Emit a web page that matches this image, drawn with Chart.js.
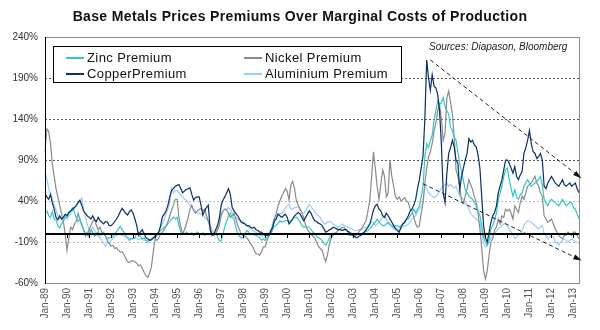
<!DOCTYPE html>
<html>
<head>
<meta charset="utf-8">
<script src="https://cdn.jsdelivr.net/npm/chart.js@4.4.1/dist/chart.umd.min.js"></script>
<style>
body{margin:0;background:#fff;font-family:"Liberation Sans",Arial,sans-serif}
#caixa{position:relative;width:600px;height:330px}
#titulo{position:absolute;left:0;top:8px;width:600px;text-align:center;font-weight:bold;font-size:14px;color:#111;letter-spacing:0.35px}
#legenda{position:absolute;left:53px;top:46px;width:347px;height:35px;border:1px solid #000;background:#fff}
.item{position:absolute;font-size:13px;color:#111;line-height:15px;letter-spacing:0.4px}
.item i{position:absolute;left:-21px;top:7px;width:18px;height:2px}
#fonte{position:absolute;left:429px;top:41px;font-size:10px;font-style:italic;color:#222}
</style>
</head>
<body>
<div id="caixa">
  <canvas id="grafico" width="600" height="330"></canvas>
  <div id="titulo">Base Metals Prices Premiums Over Marginal Costs of Production</div>
  <div id="legenda"></div>
  <div id="fonte">Sources: Diapason, Bloomberg</div>
</div>
<script>
// rotulos mensais jan-89 ate abr-13
const anos = ['89','90','91','92','93','94','95','96','97','98','99','00','01','02','03','04','05','06','07','08','09','10','11','12','13']
const meses = ['Jan','Feb','Mar','Apr','May','Jun','Jul','Aug','Sep','Oct','Nov','Dec']
const mesesUltimoAno = 4
const rotulos = []
for (const a of anos) {
    const n = a === '13' ? mesesUltimoAno : 12
    for (let m = 0; m < n; m++) rotulos.push(meses[m] + '-' + a)
}

// valores (%), um ano por linha
const zinco = [
 25,28,22,20,27,18,17,10,7,12,15,20,
 20,25,28,32,26,20,15,18,12,5,-3,2,
 -3,5,2,-3,0,3,-2,0,2,-3,-5,-5,
 -5,-3,0,3,6,9,5,2,-3,-5,-8,-6,
 -6,-5,0,2,-3,-6,-5,-8,-10,-7,-8,-5,
 -5,-2,2,4,6,8,9,12,15,18,20,18,
 20,10,2,0,-1,2,0,-1,1,-2,0,2,
 0,-1,1,-2,0,-1,1,0,-1,0,-3,-9,
 -9,0,9,15,22,25,20,18,8,0,-3,-5,
 -5,0,4,2,-1,0,-1,-2,-3,-5,-8,-6,
 -8,-5,0,2,5,9,10,13,16,14,15,16,
 16,15,16,18,20,20,18,14,10,8,9,8,
 8,5,2,0,-3,-5,-6,-8,-12,-14,-10,-5,
 0,0,1,0,0,-1,0,-1,0,0,-2,-2,
 -2,-3,-1,0,0,1,2,3,4,6,9,12,
 14,18,15,12,10,10,12,14,12,10,8,10,
 10,8,10,12,15,18,18,22,25,30,25,30,
 34,45,58,94,110,105,114,120,138,150,162,158,
 160,166,155,150,146,130,126,118,114,100,86,75,
 65,54,50,46,44,42,38,34,28,22,10,-5,
 -10,-14,-8,6,10,18,25,42,50,58,70,78,
 80,66,55,46,54,45,42,48,50,58,62,66,
 62,58,60,62,64,66,70,60,42,38,34,40,
 42,40,38,36,34,38,42,38,34,36,38,38,
 32,30,24,18
]
const cobre = [
 50,45,42,48,38,30,20,17,22,18,20,24,
 22,26,28,30,32,34,38,41,35,28,25,22,
 20,18,22,17,15,20,16,14,12,15,14,10,
 10,12,15,18,22,27,31,28,25,23,27,29,
 25,18,10,-2,2,5,0,-5,-6,-8,-7,-5,
 -3,0,2,10,21,24,28,35,45,53,55,58,
 59,60,55,50,52,54,55,56,48,41,44,45,
 45,35,23,28,32,35,5,-2,0,5,10,19,
 35,41,45,50,55,48,32,28,25,22,18,14,
 13,12,10,10,8,7,8,5,4,2,2,0,
 -2,-1,-2,3,8,16,18,24,22,20,22,24,
 20,12,15,18,22,24,26,24,20,16,20,24,
 28,25,20,16,15,13,12,10,6,2,3,5,
 6,8,7,6,5,5,4,5,5,3,2,0,
 -2,-4,-5,-3,-2,0,2,5,8,12,20,29,
 34,36,30,28,22,20,25,22,18,14,10,6,
 4,2,8,12,14,18,22,28,30,35,42,55,
 66,80,95,140,212,190,175,194,180,178,170,150,
 110,50,38,74,98,105,114,106,90,86,54,70,
 80,90,98,116,112,114,108,106,96,80,45,10,
 -5,-10,2,14,22,26,34,50,58,66,78,90,
 90,86,80,74,82,70,66,72,76,98,105,114,
 126,110,100,98,92,94,98,90,58,55,62,66,
 70,66,62,60,58,62,66,60,58,60,62,58,
 60,62,55,50
]
const niquel = [
 100,128,125,110,85,70,55,45,35,25,15,0,
 -20,-5,8,5,12,15,25,18,10,5,0,-2,
 5,10,15,18,10,5,8,2,0,-3,-8,-12,
 -15,-14,-18,-17,-20,-22,-22,-25,-30,-34,-35,-33,
 -33,-34,-36,-39,-38,-42,-47,-51,-53,-48,-40,-22,
 -6,-8,-5,0,2,5,10,15,22,29,35,42,
 42,20,8,0,5,12,20,30,35,28,25,28,
 30,31,28,30,22,15,8,0,-2,0,5,10,
 22,28,30,29,25,20,22,25,18,10,5,-1,
 -2,-3,-5,-8,-12,-15,-20,-24,-25,-26,-22,-16,
 -16,-8,-2,0,5,17,25,34,40,46,50,55,
 52,41,60,64,55,40,35,30,25,20,10,5,
 2,0,-3,-5,-10,-15,-18,-20,-28,-34,-25,-12,
 -5,-2,0,2,5,6,8,8,5,2,0,-2,
 -2,-3,0,2,5,8,12,16,28,41,70,100,
 80,58,42,60,78,70,45,50,90,70,58,45,
 42,45,40,42,44,40,38,30,28,20,12,8,
 10,25,38,62,80,94,100,110,125,135,150,158,
 140,114,122,166,174,160,146,118,78,70,58,40,
 38,46,55,66,60,54,45,38,25,6,-18,-45,
 -55,-45,-26,-10,-6,5,8,18,12,22,20,30,
 28,30,25,18,34,30,26,38,46,42,50,58,
 60,62,66,70,62,58,50,46,22,18,14,16,
 18,12,6,2,-2,-4,-6,-2,-2,2,0,-2,
 2,2,-2,-6
]
const aluminio = [
 75,68,55,48,42,35,29,22,18,20,17,22,
 18,22,25,28,30,35,40,38,44,30,20,12,
 5,2,8,4,0,-3,-5,-8,-12,-15,-10,-12,
 -8,-6,-4,-2,0,0,-2,-3,-3,-5,-5,-6,
 -6,-5,-6,-7,-6,-7,-8,-8,-9,-8,-6,-5,
 -2,0,3,9,12,18,25,30,40,55,50,53,
 53,50,48,45,42,41,38,35,32,30,28,25,
 25,24,23,20,18,16,10,5,0,0,5,12,
 25,28,30,30,32,30,25,22,20,18,16,15,
 16,12,10,8,6,4,3,2,0,-2,-2,-3,
 -2,-2,0,5,12,20,22,24,25,24,28,32,
 34,36,30,30,32,32,33,30,26,25,28,32,
 36,33,30,27,24,22,20,16,12,12,14,15,
 14,12,10,9,8,10,12,10,9,8,7,6,
 5,4,4,5,5,6,7,8,10,12,15,14,
 10,12,14,16,20,22,18,12,10,8,6,6,
 6,5,6,8,10,10,12,14,18,20,22,26,
 30,34,38,58,55,50,48,46,44,46,48,52,
 55,58,60,62,58,60,58,56,58,52,46,44,
 42,38,35,30,25,22,20,18,16,14,2,-12,
 -16,-14,-8,-6,-2,0,4,6,8,10,12,12,
 10,6,2,0,-6,-4,-2,0,4,10,14,16,
 15,14,12,10,8,6,8,10,0,-2,-6,-4,
 -2,-4,-10,-12,-14,-10,-8,-6,-8,-10,-8,-6,
 -8,-10,-10,-12
]

// setas de tendencia tracejadas [rotulo, valor]
const tendenciaAlta = [['Jul-06', 212], ['Apr-13', 70]]
const tendenciaBaixa = [['Mar-06', 61], ['Apr-13', -31]]

const grade = [190, 140, 90, 40, -10]
const gradeClara = [40, -10]

const series = [
    {nome: 'Zinc Premium', dados: zinco, cor: '#33c6c6', ordem: 1, col: 0, lin: 0},
    {nome: 'Nickel Premium', dados: niquel, cor: '#8a8a8a', ordem: 2, col: 1, lin: 0},
    {nome: 'CopperPremium', dados: cobre, cor: '#0b2e66', ordem: 0, col: 0, lin: 1},
    {nome: 'Aluminium Premium', dados: aluminio, cor: '#99ccff', ordem: 3, col: 1, lin: 1}
]

// legenda em html
const legenda = document.getElementById('legenda')
for (const s of series) {
    const d = document.createElement('div')
    d.className = 'item'
    d.style.left = (s.col === 0 ? 33 : 211) + 'px'
    d.style.top = (s.lin === 0 ? 3 : 19) + 'px'
    d.innerHTML = '<i style="background:' + s.cor + '"></i>' + s.nome
    legenda.appendChild(d)
}

function seta(ctx, x1, y1, x2, y2) {
    ctx.setLineDash([4, 3])
    ctx.beginPath()
    ctx.moveTo(x1, y1)
    ctx.lineTo(x2, y2)
    ctx.stroke()
    ctx.setLineDash([])
    const ang = Math.atan2(y2 - y1, x2 - x1)
    ctx.beginPath()
    ctx.moveTo(x2 + 3 * Math.cos(ang), y2 + 3 * Math.sin(ang))
    ctx.lineTo(x2 - 6 * Math.cos(ang - 0.45), y2 - 6 * Math.sin(ang - 0.45))
    ctx.lineTo(x2 - 6 * Math.cos(ang + 0.45), y2 - 6 * Math.sin(ang + 0.45))
    ctx.closePath()
    ctx.fill()
}

const desenho = {
    id: 'desenho',
    beforeDatasetsDraw(chart) {
        const {ctx, chartArea: a, scales: {y}} = chart
        ctx.save()
        ctx.lineWidth = 1
        for (const v of grade) {
            const py = Math.round(y.getPixelForValue(v)) + 0.5
            const clara = gradeClara.includes(v)
            ctx.strokeStyle = clara ? '#bdbdbd' : '#555'
            ctx.setLineDash(clara ? [2, 2] : [2, 2])
            ctx.beginPath()
            ctx.moveTo(a.left, py)
            ctx.lineTo(a.right, py)
            ctx.stroke()
        }
        ctx.restore()
    },
    afterDatasetsDraw(chart) {
        const {ctx, chartArea: a, scales: {x, y}} = chart
        ctx.save()
        // moldura
        ctx.strokeStyle = '#8c8c8c'
        ctx.lineWidth = 1
        ctx.strokeRect(a.left + 0.5, a.top + 0.5, a.right - a.left, a.bottom - a.top)
        ctx.strokeStyle = '#000'
        ctx.beginPath()
        ctx.moveTo(a.left + 0.5, a.top)
        ctx.lineTo(a.left + 0.5, a.bottom + 1)
        ctx.stroke()
        // linha do zero com marcas anuais
        const y0 = Math.round(y.getPixelForValue(0))
        ctx.lineWidth = 2
        ctx.beginPath()
        ctx.moveTo(a.left, y0)
        ctx.lineTo(a.right, y0)
        ctx.stroke()
        ctx.lineWidth = 1
        rotulos.forEach((r, i) => {
            if (!r.startsWith('Jan')) return
            const px = Math.round(x.getPixelForValue(i)) + 0.5
            ctx.beginPath()
            ctx.moveTo(px, y0)
            ctx.lineTo(px, y0 + 4)
            ctx.stroke()
        })
        // setas
        ctx.strokeStyle = '#222'
        ctx.fillStyle = '#111'
        for (const t of [tendenciaAlta, tendenciaBaixa]) {
            seta(ctx,
                x.getPixelForValue(rotulos.indexOf(t[0][0])), y.getPixelForValue(t[0][1]),
                x.getPixelForValue(rotulos.indexOf(t[1][0])), y.getPixelForValue(t[1][1]))
        }
        ctx.restore()
    }
}

const fonteEixo = {family: '"Liberation Sans", Arial, sans-serif', size: 10}

new Chart(document.getElementById('grafico'), {
    type: 'line',
    data: {
        labels: rotulos,
        datasets: series.map(s => ({
            label: s.nome,
            data: s.dados,
            borderColor: s.cor,
            borderWidth: 1.2,
            pointRadius: 0,
            tension: 0,
            order: s.ordem
        }))
    },
    options: {
        responsive: false,
        animation: false,
        layout: {padding: {top: 37, right: 21, left: 0, bottom: 0}},
        plugins: {legend: {display: false}, tooltip: {enabled: false}},
        scales: {
            x: {
                grid: {display: false, drawTicks: false},
                border: {display: false},
                ticks: {
                    autoSkip: false,
                    maxRotation: 90,
                    minRotation: 90,
                    padding: 5,
                    color: '#555',
                    font: fonteEixo,
                    callback: (v, i) => rotulos[i].startsWith('Jan') ? rotulos[i] : null
                },
                afterFit(s) { s.height = 47 }
            },
            y: {
                min: -60,
                max: 240,
                grid: {display: false, drawTicks: false},
                border: {display: false},
                ticks: {
                    stepSize: 50,
                    padding: 7,
                    color: '#333',
                    font: fonteEixo,
                    callback: v => v + '%'
                },
                afterFit(s) { s.width = 45 }
            }
        }
    },
    plugins: [desenho]
})
</script>
</body>
</html>
